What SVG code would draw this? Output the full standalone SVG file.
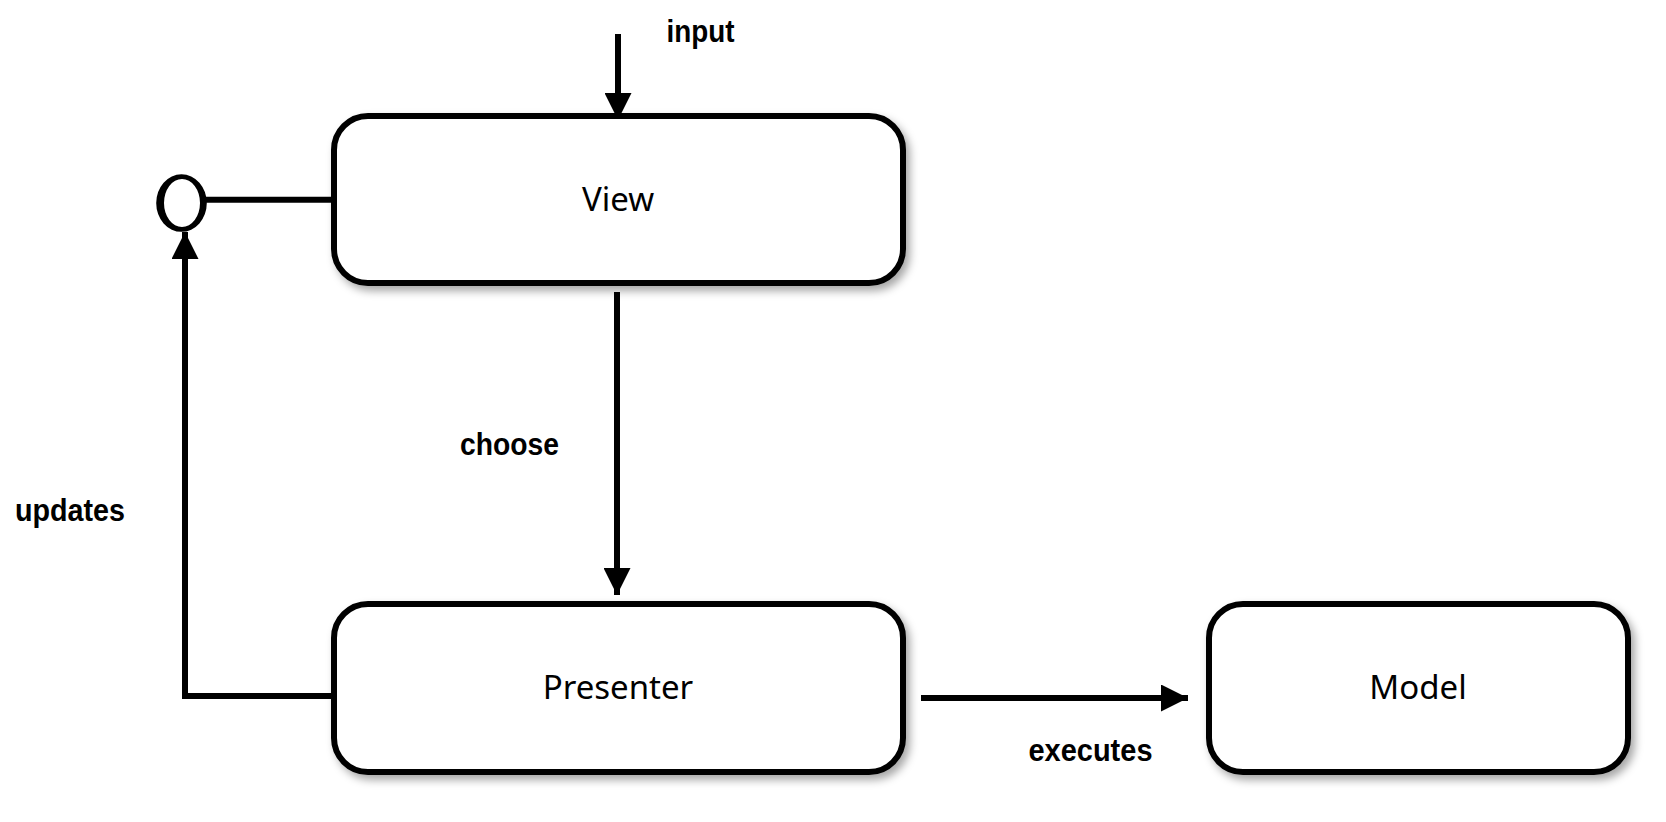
<svg xmlns="http://www.w3.org/2000/svg" width="1666" height="822" viewBox="0 0 1666 822">
<style>
.box{fill:#fff;stroke:#000;stroke-width:6;filter:url(#sh)}
.nl{font-family:"Noto Sans","DejaVu Sans",sans-serif;font-size:33px;fill:#000;text-anchor:middle}
.el{font-family:"Liberation Sans",Arial,sans-serif;font-weight:bold;font-size:31px;fill:#000}
.c{fill:none;stroke:#000;stroke-width:6}
</style>
<defs>
<filter id="sh" x="-10%" y="-10%" width="130%" height="140%">
<feDropShadow dx="4" dy="5" stdDeviation="4" flood-color="#000" flood-opacity="0.35"/>
</filter>
<marker id="ah" viewBox="0 0 27 27" refX="27" refY="13.5" markerWidth="27" markerHeight="27" markerUnits="userSpaceOnUse" orient="auto">
<path d="M0,0 L27,13.5 L0,27 z" fill="#000"/>
</marker>
</defs>
<g id="connectors">
<line class="c" x1="618" y1="34" x2="618" y2="120" marker-end="url(#ah)"/>
<line class="c" x1="617" y1="292" x2="617" y2="595" marker-end="url(#ah)"/>
<line class="c" x1="921" y1="698" x2="1188" y2="698" marker-end="url(#ah)"/>
<polyline class="c" points="334,696 185,696 185,232" marker-end="url(#ah)"/>
<line class="c" x1="206" y1="199.7" x2="331" y2="199.7"/>
<path d="M156.2,203 a25.3,28.8 0 1,0 50.6,0 a25.3,28.8 0 1,0 -50.6,0 z M164,203 a18,24 0 1,0 36,0 a18,24 0 1,0 -36,0 z" fill="#000" fill-rule="evenodd"/>
<text class="el" x="666.5" y="42" textLength="68" lengthAdjust="spacingAndGlyphs">input</text>
<text class="el" x="460" y="455" textLength="99" lengthAdjust="spacingAndGlyphs">choose</text>
<text class="el" x="15" y="521" textLength="110" lengthAdjust="spacingAndGlyphs">updates</text>
<text class="el" x="1028.5" y="761" textLength="124" lengthAdjust="spacingAndGlyphs">executes</text>
</g>
<g id="view">
<rect class="box" x="334" y="116" width="569" height="167" rx="34" ry="34"/>
<text class="nl" x="618" y="210.5">View</text>
</g>
<g id="presenter">
<rect class="box" x="334" y="604" width="569" height="168" rx="34" ry="34"/>
<text class="nl" x="618" y="699">Presenter</text>
</g>
<g id="model">
<rect class="box" x="1209" y="604" width="419" height="168" rx="34" ry="34"/>
<text class="nl" x="1418" y="699">Model</text>
</g>
</svg>
